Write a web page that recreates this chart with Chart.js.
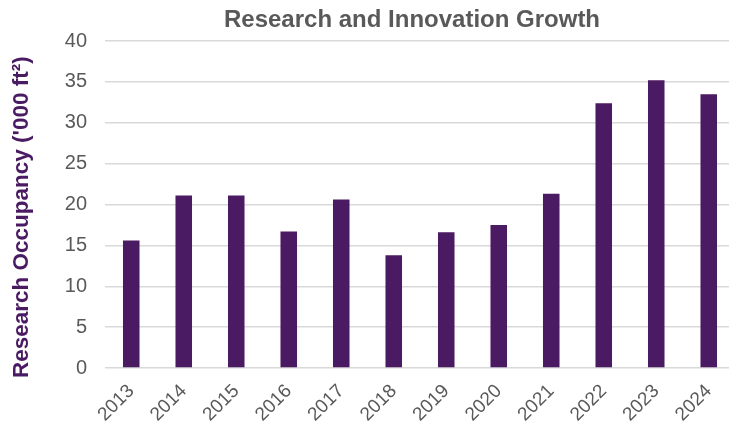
<!DOCTYPE html>
<html>
<head>
<meta charset="utf-8">
<title>Research and Innovation Growth</title>
<script src="https://cdn.jsdelivr.net/npm/chart.js@4"></script>
<style>
    html, body { margin: 0; padding: 0; background: #fff; overflow: hidden; }
    #wrap { width: 740px; height: 427px; }
</style>
</head>
<body>
<div id="wrap"><canvas id="growthChart" width="740" height="427"></canvas></div>
<script>
'use strict';

/* Research occupancy by year, thousands of square feet. */
var years     = ['2013', '2014', '2015', '2016', '2017', '2018', '2019', '2020', '2021', '2022', '2023', '2024'];
var occupancy = [15.6, 21.1, 21.1, 16.7, 20.6, 13.8, 16.6, 17.5, 21.3, 32.4, 35.2, 33.5];
var yTicks    = [0, 5, 10, 15, 20, 25, 30, 35, 40];

var chartTitle = 'Research and Innovation Growth';
var yTitle     = 'Research Occupancy (\'000 ft\u00B2)';

var FONT   = '"Liberation Sans", Arial, sans-serif';
var GREY   = '#595959';
var PURPLE = '#4A1A63';

/* Chart title and rotated y-axis title, drawn straight onto the canvas. */
var titlesPlugin = {
    id: 'titles',
    afterDraw: function (chart) {
        var ctx = chart.ctx;
        ctx.save();
        ctx.fillStyle = GREY;
        ctx.font = 'bold 24px ' + FONT;
        ctx.textAlign = 'center';
        ctx.textBaseline = 'alphabetic';
        ctx.fillText(chartTitle, 412, 27);

        ctx.translate(22, 378);
        ctx.rotate(-Math.PI / 2);
        ctx.fillStyle = PURPLE;
        ctx.font = 'bold 22.5px ' + FONT;
        ctx.textAlign = 'left';
        ctx.textBaseline = 'middle';
        ctx.fillText(yTitle, 0, 0);
        ctx.restore();
    }
};

new Chart(document.getElementById('growthChart').getContext('2d'), {
    type: 'bar',
    data: {
        labels: years,
        datasets: [{
            label: yTitle,
            data: occupancy,
            backgroundColor: PURPLE,
            borderWidth: 0,
            categoryPercentage: 1,
            barPercentage: 0.315,
        }],
    },
    options: {
        responsive: false,
        animation: false,
        layout: { padding: { top: 41, right: 5, bottom: 0, left: 0 } },
        plugins: {
            legend: { display: false },
            tooltip: { enabled: false },
        },
        scales: {
            x: {
                grid: { display: false },
                border: { display: false },
                ticks: {
                    color: GREY,
                    font: { family: FONT, size: 19 },
                    minRotation: 45,
                    maxRotation: 45,
                    padding: 4,
                },
                afterFit: function (s) { s.height = 59; },
            },
            y: {
                min: 0,
                max: 40,
                afterBuildTicks: function (s) {
                    s.ticks = yTicks.map(function (v) { return { value: v }; });
                },
                grid: { color: '#D9D9D9', lineWidth: 1.5, drawTicks: false },
                border: { display: false },
                ticks: {
                    color: GREY,
                    font: { family: FONT, size: 20 },
                    padding: 18,
                },
                afterFit: function (s) { s.width = 105; },
            },
        },
    },
    plugins: [titlesPlugin],
});
</script>
</body>
</html>
